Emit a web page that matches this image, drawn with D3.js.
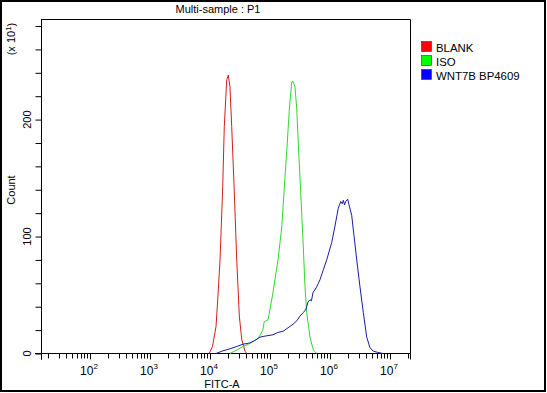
<!DOCTYPE html>
<html><head><meta charset="utf-8">
<script src="https://cdn.jsdelivr.net/npm/d3@7"></script>
<style>body{margin:0;background:#fff}svg{display:block}text{font-family:"Liberation Sans",Arial,sans-serif;fill:#000}</style>
</head><body><svg id="c" width="547" height="393"></svg>
<script>
// Series: [FITC-A value, count (x10^1)]
const seriesNames = ["BLANK", "ISO", "WNT7B BP4609"];
const lineColors = ["#d81c1c", "#2fd82f", "#1a1aa8"];
const swatchColors = ["#ff0000", "#00ff00", "#0000ff"];
const blank = [[9.7e3,0],[1.1e4,6],[1.26e4,23],[1.36e4,50],[1.47e4,80],[1.63e4,143],[1.73e4,194],[1.9e4,234],[2.02e4,238],[2.15e4,228],[2.3e4,194],[2.54e4,138],[2.79e4,80],[3.08e4,32],[3.38e4,12],[3.83e4,2],[4.09e4,0]];
const iso = [[2.15e4,0],[2.8e4,3],[3.55e4,6],[4.4e4,8],[5.2e4,10],[6.4e4,13],[7.6e4,20],[8.0e4,27],[9.3e4,29],[1.12e5,52],[1.36e5,80],[1.57e5,108],[1.78e5,151],[1.94e5,180],[2.1e5,209],[2.3e5,232],[2.39e5,233],[2.61e5,228],[2.79e5,209],[2.96e5,180],[3.25e5,138],[3.59e5,91],[3.83e5,57],[4.09e5,35],[4.64e5,14],[5.27e5,3],[6.0e5,0]];
const wnt7b = [[1.26e4,0],[1.58e4,2],[2.15e4,4],[2.8e4,6],[3.55e4,8],[4.6e4,9],[5.5e4,11],[6.8e4,14],[8.5e4,15],[1.12e5,16],[1.35e5,18],[1.65e5,19],[2.0e5,22],[2.42e5,25],[2.8e5,28],[3.16e5,32],[3.6e5,35],[3.98e5,38],[4.3e5,44],[4.64e5,46],[4.9e5,45],[5.21e5,52],[6.0e5,57],[6.8e5,63],[7.8e5,72],[8.8e5,80],[1.07e6,95],[1.21e6,109],[1.37e6,124],[1.51e6,130],[1.6e6,128],[1.67e6,131],[1.75e6,127],[1.83e6,130],[1.97e6,132],[2.1e6,126],[2.3e6,118],[2.51e6,101],[2.79e6,80],[3.16e6,57],[3.59e6,35],[4.09e6,14],[4.64e6,5],[5.27e6,2],[6.2e6,1],[7.6e6,0]];
const series = [blank, iso, wnt7b];
const xMajor = [1e2, 1e3, 1e4, 1e5, 1e6, 1e7];
const xMajorExp = ["2", "3", "4", "5", "6", "7"];
const yMajor = [0, 100, 200];
const yMinorStep = 20;
const title = "Multi-sample : P1";
const xTitle = "FITC-A";
const yTitle = "Count";
const yUnit = "(x 10";

const svg = d3.select("#c");
const L = 41, R = 410, T = 19, B = 353.5;
const x = d3.scaleLog().domain([Math.pow(10, 1.1833), Math.pow(10, 7.3333)]).range([L, R]);
const y = d3.scaleLinear().domain([0, 286]).range([B, T]);

svg.append("rect").attr("x",1).attr("y",1).attr("width",544).attr("height",390).attr("fill","none").attr("stroke","#000").attr("stroke-width",2);

// plot frame
svg.append("path").attr("d",`M${L+0.5},${T+0.5}H${R+0.5}V${B}`).attr("fill","none").attr("stroke","#000");

// y axis
const yAxis = d3.axisLeft(y).tickValues(d3.range(0, 286, yMinorStep)).tickSize(6).tickFormat("");
const ga = svg.append("g").attr("transform",`translate(${L+0.5},0)`).call(yAxis);
ga.select(".domain").attr("d",`M0,${T}V${B+6}`);
ga.selectAll("line").attr("stroke","#000");
ga.select(".domain").attr("stroke","#000");
yMajor.forEach(v=>{
  svg.append("text").attr("transform",`translate(31,${y(v)}) rotate(-90)`).attr("text-anchor","middle").attr("font-size",11).text(v);
});
svg.append("text").attr("transform",`translate(15,${190}) rotate(-90)`).attr("text-anchor","middle").attr("font-size",11).text(yTitle);
const yu = svg.append("text").attr("transform",`translate(15,${39}) rotate(-90)`).attr("text-anchor","middle").attr("font-size",11);
yu.append("tspan").text(yUnit);
yu.append("tspan").attr("dy",-4).attr("font-size",8).text("1");
yu.append("tspan").attr("dy",4).text(")");

// x axis
const minors = [];
for (let e = 1; e <= 7; e++) for (let k = 2; k <= 9; k++) { const v = k*Math.pow(10,e); if (v > x.domain()[0] && v < x.domain()[1]) minors.push(v); }
const gx = svg.append("g").attr("transform",`translate(0,${B})`);
gx.append("line").attr("x1",L-6).attr("x2",R+0.5).attr("stroke","#000");
gx.selectAll(".mj").data(xMajor).join("line").attr("x1",d=>Math.round(x(d))+0.5).attr("x2",d=>Math.round(x(d))+0.5).attr("y1",0).attr("y2",6).attr("stroke","#000");
gx.selectAll(".mn").data(minors).join("line").attr("x1",d=>Math.round(x(d))+0.5).attr("x2",d=>Math.round(x(d))+0.5).attr("y1",0).attr("y2",5).attr("stroke","#000");
gx.append("line").attr("x1",L+0.5).attr("x2",L+0.5).attr("y1",0).attr("y2",6).attr("stroke","#000");
gx.append("line").attr("x1",R+0.5).attr("x2",R+0.5).attr("y1",0).attr("y2",6).attr("stroke","#000");
xMajor.forEach((v,i)=>{
  const t = svg.append("text").attr("x",x(v)-1).attr("y",375).attr("text-anchor","middle").attr("font-size",12);
  t.append("tspan").text("10");
  t.append("tspan").attr("dy",-6).attr("font-size",8).text(xMajorExp[i]);
});
svg.append("text").attr("x",222).attr("y",388).attr("text-anchor","middle").attr("font-size",11).text(xTitle);
svg.append("text").attr("x",218).attr("y",13).attr("text-anchor","middle").attr("font-size",11).text(title);

// histograms
const line = d3.line().x(d=>x(d[0])).y(d=>y(d[1]));
series.forEach((s,i)=>{
  svg.append("path").attr("d",line(s)).attr("fill","none").attr("stroke",lineColors[i]).attr("stroke-width",1);
});

// legend
seriesNames.forEach((n,i)=>{
  const yy = 41 + i*14;
  svg.append("rect").attr("x",421.5).attr("y",yy+0.5).attr("width",10).attr("height",10).attr("fill",swatchColors[i]).attr("stroke","#333").attr("stroke-width",0.6);
  svg.append("text").attr("x",436).attr("y",yy+10.5).attr("font-size",11.4).text(n);
});
</script></body></html>
